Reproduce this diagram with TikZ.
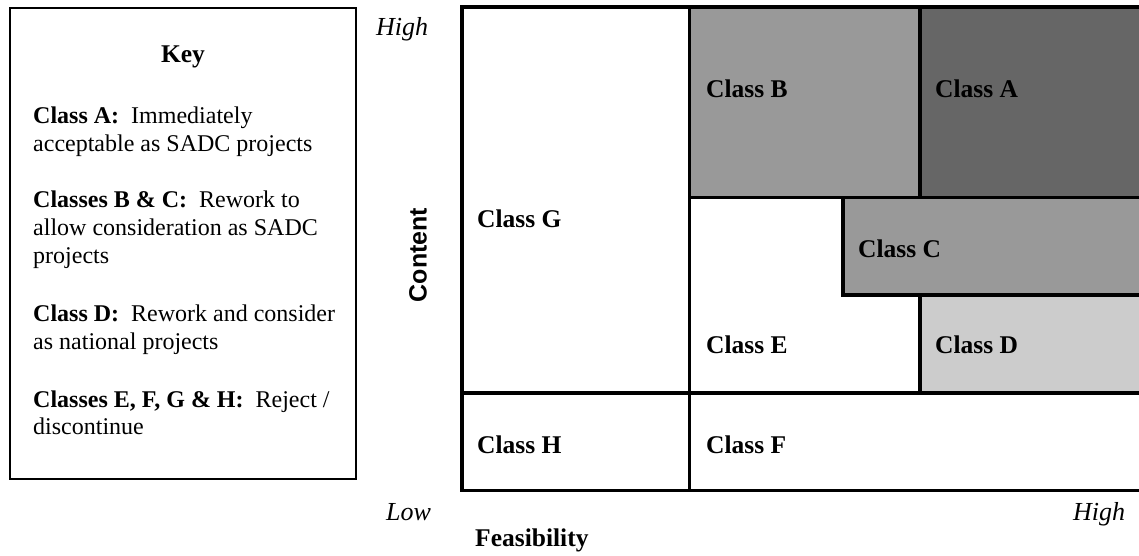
\documentclass[tikz,border=0pt]{standalone}
\usepackage{fontspec}
\setmainfont{Liberation Serif}
\newfontfamily\sansfont{Liberation Sans}
\definecolor{gA}{gray}{0.4}
\definecolor{gB}{gray}{0.6}
\definecolor{gD}{gray}{0.8}
\begin{document}
\begin{tikzpicture}[x=1pt,y=-1pt,
  gridline/.style={line width=3.6pt,line join=miter,line cap=butt},
  keytxt/.style={anchor=base west,inner sep=0pt,font=\fontsize{24}{28}\selectfont},
  celltxt/.style={anchor=base west,inner sep=0pt,font=\fontsize{25.5}{30}\selectfont\bfseries},
  axtxt/.style={anchor=base west,inner sep=0pt,font=\fontsize{26}{30}\selectfont\itshape}]
\useasboundingbox[fill=white] (0,0) rectangle (1139,555);
% key box
\draw[line width=2pt] (10,8.3) rectangle (356,478.7);
\node[anchor=base,inner sep=0pt,font=\fontsize{25.5}{30}\selectfont\bfseries] (key) at (183,62) {Key};
\node[keytxt] (k1) at (33,123) {\textbf{Class A:}\ \ Immediately};
\node[keytxt] (k2) at (33,151) {acceptable as SADC projects};
\node[keytxt] (k3) at (33,207) {\textbf{Classes B \& C:}\ \ Rework to};
\node[keytxt] (k4) at (33,235) {allow consideration as SADC};
\node[keytxt] (k5) at (33,263) {projects};
\node[keytxt] (k6) at (33,321) {\textbf{Class D:}\ \ Rework and consider};
\node[keytxt] (k7) at (33,349) {as national projects};
\node[keytxt] (k8) at (33,407) {\textbf{Classes E, F, G \& H:}\ \ Reject /};
\node[keytxt] (k9) at (33,434) {discontinue};
% fills
\fill[gB] (689.3,7) rectangle (919.7,197.3);
\fill[gA] (919.7,7) rectangle (1139,197.3);
\fill[gB] (843,197.3) rectangle (1139,295);
\fill[gD] (920,295) rectangle (1139,392.7);
% grid lines
\draw[gridline] (1139,7) -- (461.7,7) -- (461.7,490.3) -- (1139,490.3);
\draw[gridline] (689.3,7) -- (689.3,490.3);
\draw[gridline] (689.3,197.3) -- (1139,197.3);
\draw[gridline] (919.7,7) -- (919.7,197.3);
\draw[gridline] (843,197.3) -- (843,295) -- (1139,295);
\draw[gridline] (920,295) -- (920,392.7);
\draw[gridline] (461.7,392.7) -- (1139,392.7);
% cell labels
\node[celltxt] (cG) at (477,227) {Class G};
\node[celltxt] (cB) at (706,97) {Class B};
\node[celltxt] (cA) at (935,97) {Class A};
\node[celltxt] (cC) at (858,257) {Class C};
\node[celltxt] (cE) at (706,353) {Class E};
\node[celltxt] (cD) at (935,353) {Class D};
\node[celltxt] (cH) at (477,453) {Class H};
\node[celltxt] (cF) at (706,453) {Class F};
% axes labels
\node[axtxt] (hi1) at (376,35) {High};
\node[axtxt] (lo) at (386,520) {Low};
\node[axtxt] (hi2) at (1073,520) {High};
\node[celltxt] (feas) at (475,546) {Feasibility};
\node[rotate=90,inner sep=0pt,font=\fontsize{25}{30}\selectfont\sansfont\bfseries] (cont) at (418,255) {Content};
\end{tikzpicture}
\end{document}
